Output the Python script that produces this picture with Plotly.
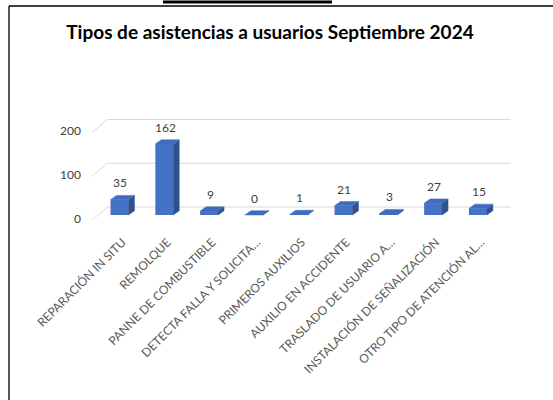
import plotly.graph_objects as go

categories = ["REPARACIÓN IN SITU", "REMOLQUE", "PANNE DE COMBUSTIBLE",
              "DETECTA FALLA Y SOLICITA…", "PRIMEROS AUXILIOS", "AUXILIO EN ACCIDENTE",
              "TRASLADO DE USUARIO A…", "INSTALACIÓN DE SEÑALIZACIÓN", "OTRO TIPO DE ATENCIÓN AL…"]
values = [35, 162, 9, 0, 1, 21, 3, 27, 15]
y_ticks = [0, 100, 200]
title = "Tipos de asistencias a usuarios Septiembre 2024"

W, H = 553, 400
# pixel geometry helpers (bar front plane)
X0, SX = 119.5, 44.8      # px of category 0, px per category
Y0, SY = 215.0, 0.4375    # px of value 0, px per unit


def dx(p):
    return p / SX


def dy(p):
    return -p / SY


xr = [(92 - X0) / SX, (513 - X0) / SX]
yr = [(Y0 - 230) / SY, (Y0 - 110) / SY]

BW = 0.4
DX, DY = dx(6), dy(-4.3)          # bar depth
FX, FY = dx(-5), dy(5)            # front grid plane offset
BX, BY = dx(10.5), dy(-8)         # back grid plane offset

n = len(categories)
xs = list(range(n))

fig = go.Figure()
fig.add_trace(go.Bar(x=xs, y=values, width=BW, marker=dict(color="#4472C4", line=dict(width=0)),
                     hoverinfo="skip"))

sx, sy = [], []
tx, ty = [], []
for i, v in zip(xs, values):
    r = i + BW / 2
    l = i - BW / 2
    sx += [r, r + DX, r + DX, r, r, None]
    sy += [0, DY, v + DY, v, 0, None]
    tx += [l, r, r + DX, l + DX, l, None]
    ty += [v, v, v + DY, v + DY, v, None]
fig.add_trace(go.Scatter(x=sx, y=sy, mode="lines", fill="toself", fillcolor="#2F528F",
                         line=dict(width=0.5, color="#2F528F"), hoverinfo="skip"))
fig.add_trace(go.Scatter(x=tx, y=ty, mode="lines", fill="toself", fillcolor="#3F6CBE",
                         line=dict(width=0.5, color="#3F6CBE"), hoverinfo="skip"))

shapes = []
for t in y_ticks:
    x_front = -0.5 + FX
    x_back = -0.5 + BX
    x_end = n - 0.5 + BX
    shapes.append(dict(type="path", xref="x", yref="y", layer="below",
                       path=f"M {x_front},{t + FY} L {x_back},{t + BY} L {x_end},{t + BY}",
                       line=dict(color="#D9D9D9", width=1)))

annotations = []
for t in y_ticks:
    annotations.append(dict(x=83 / W, xref="paper", y=t + FY, yref="y", text=str(t),
                            showarrow=False, xanchor="right", yanchor="middle", yshift=2,
                            font=dict(family="Lato", size=12, color="#404040")))
for i, v in zip(xs, values):
    annotations.append(dict(x=i + 0.02, y=v + DY, xref="x", yref="y", text=str(v),
                            showarrow=False, xanchor="center", yanchor="bottom", yshift=3,
                            font=dict(family="Lato", size=12, color="#404040")))

shapes.append(dict(type="line", xref="paper", yref="paper", x0=9 / W, x1=9 / W,
                   y0=1 - 6 / H, y1=0, line=dict(color="#000000", width=1.3)))
shapes.append(dict(type="line", xref="paper", yref="paper", x0=9 / W, x1=1,
                   y0=1 - 6 / H, y1=1 - 6 / H, line=dict(color="#000000", width=1.3)))
shapes.append(dict(type="line", xref="paper", yref="paper", x0=163 / W, x1=332 / W,
                   y0=1 - 2 / H, y1=1 - 2 / H, line=dict(color="#000000", width=3)))

fig.update_layout(
    width=W, height=H,
    margin=dict(l=0, r=0, t=0, b=0),
    paper_bgcolor="white", plot_bgcolor="rgba(0,0,0,0)",
    showlegend=False,
    title=dict(text=f"<b>{title}</b>", x=270 / W, y=1 - 32 / H, xanchor="center", yanchor="middle",
               font=dict(family="Lato", size=19, color="#000000")),
    xaxis=dict(domain=[92 / W, 513 / W], range=xr, showgrid=False, zeroline=False, showline=False,
               tickmode="array", tickvals=xs, ticktext=categories, tickangle=-45,
               ticks="", tickfont=dict(family="Lato", size=12, color="#595959"), automargin=False,
               ticklabelstandoff=2, ticklabelshift=3, fixedrange=True),
    yaxis=dict(domain=[1 - 230 / H, 1 - 110 / H], range=yr, showgrid=False, zeroline=False,
               showline=False, showticklabels=False, automargin=False, fixedrange=True),
    shapes=shapes,
    annotations=annotations,
)

fig.write_html("out.html", config={"displayModeBar": False},
               post_script="document.body.style.margin='0';document.body.style.padding='0';")
